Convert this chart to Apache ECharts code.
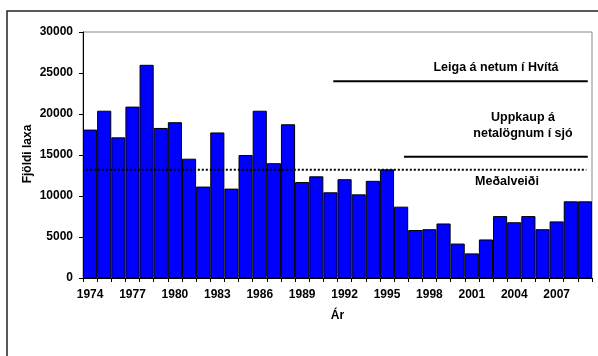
<!DOCTYPE html>
<html>
<head>
<meta charset="utf-8">
<script src="https://cdn.jsdelivr.net/npm/echarts@6/dist/echarts.min.js"></script>
<style>
  html, body { margin: 0; padding: 0; background: #ffffff; }
  #chart { width: 598px; height: 356px; }
</style>
</head>
<body>
<div id="chart"></div>
<script>
// Annual salmon catch, 1974-2009
const years = [
  '1974','1975','1976','1977','1978','1979','1980','1981','1982','1983','1984','1985',
  '1986','1987','1988','1989','1990','1991','1992','1993','1994','1995','1996','1997',
  '1998','1999','2000','2001','2002','2003','2004','2005','2006','2007','2008','2009'
];
const salmonCatch = [
  18100, 20400, 17150, 20900, 26000, 18300, 19000, 14550, 11150, 17750, 10900, 15000,
  20400, 14000, 18750, 11700, 12400, 10450, 12050, 10200, 11850, 13250, 8700, 5850,
  5950, 6650, 4200, 3000, 4700, 7550, 6800, 7550, 5950, 6900, 9350, 9350
];
const yTicks = { min: 0, max: 30000, step: 5000 };

// Reference levels and the year spans they cover
const averageCatch = 13200;
const averageSpan = [1973.7, 2009.1];
const netLeaseLevel = 24000;
const netLeaseSpan = [1991.2, 2009.2];
const seaNetBuyoutLevel = 14800;
const seaNetBuyoutSpan = [1996.2, 2009.2];

const FONT = 'Arial, "Liberation Sans", sans-serif';
const chart = echarts.init(document.getElementById('chart'), null, { renderer: 'canvas' });

const spanLine = (span, level) => [[span[0], level], [span[1], level]];

chart.setOption({
  animation: false,
  backgroundColor: '#ffffff',
  textStyle: { fontFamily: FONT },
  grid: {
    left: 83, top: 32, right: 6, bottom: 78,
    containLabel: false, outerBoundsMode: 'none',
    show: true, borderColor: '#888888', borderWidth: 1, backgroundColor: 'transparent'
  },
  xAxis: [
    {
      type: 'category',
      data: years,
      boundaryGap: true,
      axisLine: { lineStyle: { color: '#000000', width: 1 } },
      axisTick: { show: true, interval: 0, length: 4, inside: false, lineStyle: { color: '#000000' } },
      axisLabel: {
        interval: 2, margin: 11, color: '#000000',
        fontFamily: FONT, fontSize: 12, fontWeight: 'bold'
      },
      splitLine: { show: false }
    },
    {
      type: 'value',
      min: 1973.5, max: 2009.5,
      show: false,
      splitLine: { show: false }
    }
  ],
  yAxis: {
    type: 'value',
    min: yTicks.min, max: yTicks.max, interval: yTicks.step,
    axisLine: { show: true, lineStyle: { color: '#000000', width: 1 } },
    axisTick: { show: true, length: 4, lineStyle: { color: '#000000' } },
    axisLabel: {
      margin: 10, color: '#000000',
      fontFamily: FONT, fontSize: 12, fontWeight: 'bold',
      formatter: (v) => String(v)
    },
    splitLine: { show: false }
  },
  series: [
    {
      type: 'bar',
      data: salmonCatch,
      barCategoryGap: '0%',
      itemStyle: { color: '#0000ff', borderColor: '#000000', borderWidth: 1 },
      silent: true,
      z: 2
    },
    {
      type: 'line',
      xAxisIndex: 1,
      data: spanLine(averageSpan, averageCatch),
      showSymbol: false, symbol: 'none', silent: true,
      lineStyle: { color: '#000000', width: 2, type: [2, 2] },
      z: 4
    },
    {
      type: 'line',
      xAxisIndex: 1,
      data: spanLine(netLeaseSpan, netLeaseLevel),
      showSymbol: false, symbol: 'none', silent: true,
      lineStyle: { color: '#000000', width: 2 },
      z: 4
    },
    {
      type: 'line',
      xAxisIndex: 1,
      data: spanLine(seaNetBuyoutSpan, seaNetBuyoutLevel),
      showSymbol: false, symbol: 'none', silent: true,
      lineStyle: { color: '#000000', width: 2 },
      z: 4
    }
  ],
  graphic: [
    {
      type: 'rect', silent: true, z: 0,
      shape: { x: 7, y: 11, width: 800, height: 600 },
      style: { fill: 'none', stroke: '#222222', lineWidth: 1.5 }
    },
    {
      type: 'text', silent: true, x: 28, y: 154, rotation: Math.PI / 2,
      style: {
        text: 'Fjöldi laxa', fill: '#000000', font: 'bold 12px ' + FONT,
        align: 'center', verticalAlign: 'middle'
      }
    },
    {
      type: 'text', silent: true, x: 337.5, y: 316,
      style: {
        text: 'Ár', fill: '#000000', font: 'bold 12px ' + FONT,
        align: 'center', verticalAlign: 'middle'
      }
    },
    {
      type: 'text', silent: true, x: 496, y: 68,
      style: {
        text: 'Leiga á netum í Hvítá', fill: '#000000', font: 'bold 12.5px ' + FONT,
        align: 'center', verticalAlign: 'middle'
      }
    },
    {
      type: 'text', silent: true, x: 523, y: 126,
      style: {
        text: 'Uppkaup á\nnetalögnum í sjó', fill: '#000000', font: 'bold 12.5px ' + FONT,
        align: 'center', verticalAlign: 'middle', lineHeight: 16
      }
    },
    {
      type: 'text', silent: true, x: 507, y: 182,
      style: {
        text: 'Meðalveiði', fill: '#000000', font: 'bold 12.5px ' + FONT,
        align: 'center', verticalAlign: 'middle'
      }
    }
  ]
});
</script>
</body>
</html>
